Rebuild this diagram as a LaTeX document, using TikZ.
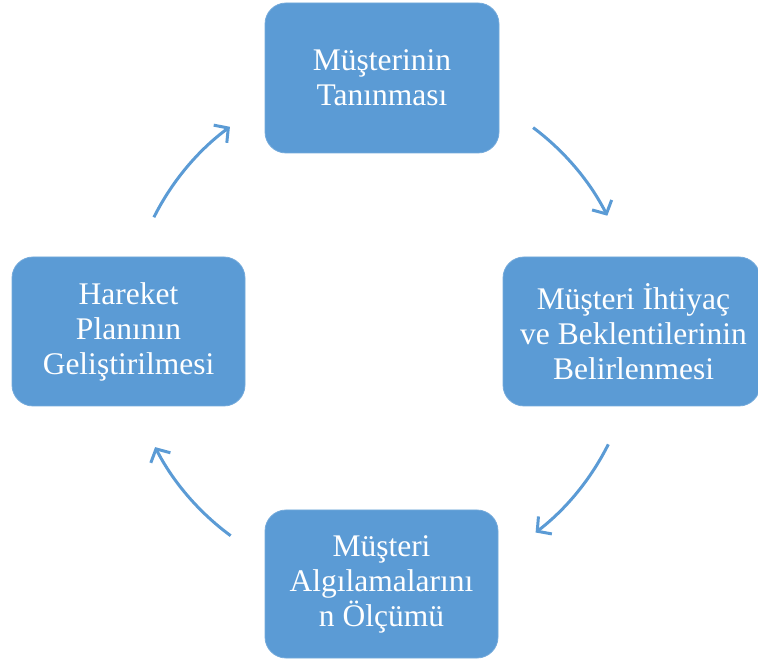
\documentclass[tikz,border=0pt]{standalone}
\usepackage{fontspec}
\setmainfont{Liberation Serif}
\usetikzlibrary{arrows.meta}
\definecolor{boxblue}{HTML}{5B9BD5}
\begin{document}
\begin{tikzpicture}[x=1pt,y=1pt,
  stagebox/.style={fill=boxblue, draw=boxblue!85!white, line width=0.8pt, rounded corners=21pt,
    text=white, align=center, inner sep=0pt,
    font=\fontsize{31.5}{35}\selectfont},
  cyclearrow/.style={draw=boxblue, line width=3pt, -{Straight Barb[length=10pt,width=22pt,line width=3pt]}}]
\clip (0,0) rectangle (758,659);
\node[stagebox, minimum width=234pt, minimum height=150pt] (top) at (382,581) {Müşterinin\\Tanınması};
\node[stagebox, minimum width=257pt, minimum height=149pt] (right) at (631.5,327.5) {\hspace*{4pt}Müşteri İhtiyaç\\\hspace*{4pt}ve Beklentilerinin\\\hspace*{4pt}Belirlenmesi};
\node[stagebox, minimum width=233pt, minimum height=148pt] (bottom) at (381.5,75) {Müşteri\\Algılamalarını\\n Ölçümü};
\node[stagebox, minimum width=233pt, minimum height=149pt] (left) at (128.5,327.5) {Hareket\\Planının\\Geliştirilmesi};
\coordinate (c) at (381,328);
\draw[cyclearrow] ([shift={(53.2:254)}]c) arc[start angle=53.2, end angle=27, radius=254];
\draw[cyclearrow] ([shift={(-26.5:254)}]c) arc[start angle=-26.5, end angle=-52.5, radius=254];
\draw[cyclearrow] ([shift={(233.7:254)}]c) arc[start angle=233.7, end angle=207.2, radius=254];
\draw[cyclearrow] ([shift={(153.4:254)}]c) arc[start angle=153.4, end angle=126.5, radius=254];
\end{tikzpicture}
\end{document}
